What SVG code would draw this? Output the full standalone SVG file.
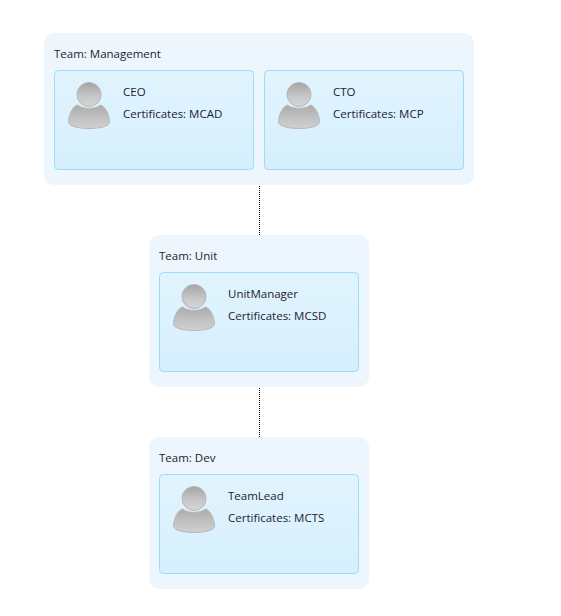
<svg xmlns="http://www.w3.org/2000/svg" width="561" height="616" viewBox="0 0 561 616">
<style>
.team{fill:#eef6fd}
.card{fill:url(#cardFill);stroke:#9bdcfb;stroke-width:1}
text{font-family:"Open Sans","Noto Sans","Liberation Sans",sans-serif;font-size:11.5px;fill:#22222e}
.link{stroke:#000;stroke-width:1;stroke-dasharray:1 1;fill:none}
</style>
<defs>
<linearGradient id="cardFill" x1="0" y1="0" x2="0" y2="1"><stop offset="0" stop-color="#e1f4fe"/><stop offset="1" stop-color="#d6effd"/></linearGradient>
<linearGradient id="headFill" x1="0" y1="0" x2="0" y2="1"><stop offset="0" stop-color="#a4a4a4"/><stop offset="0.55" stop-color="#c6c6c6"/><stop offset="1" stop-color="#d6d6d6"/></linearGradient>
<linearGradient id="bodyFill" x1="0" y1="0" x2="0" y2="1"><stop offset="0" stop-color="#aaaaaa"/><stop offset="0.5" stop-color="#c0c0c0"/><stop offset="1" stop-color="#d0d0d0"/></linearGradient>
<g id="avatar">
<circle cx="0" cy="0" r="12" fill="url(#headFill)" stroke="#b5b5b5" stroke-width="1"/>
<path d="M-11.5 10.5C-6 15 6 15 11.5 10.5C16 12 20 19 20.5 27C21 32 10 34 0 34C-10 34 -21 32 -20.5 27C-20 19 -16 12 -11.5 10.5Z" fill="url(#bodyFill)" stroke="#b8b8b8" stroke-width="1"/>
</g>
</defs>
<rect width="561" height="616" fill="#fff"/>
<g id="connectors">
<line class="link" x1="259.5" y1="186" x2="259.5" y2="235"/>
<line class="link" x1="259.5" y1="388" x2="259.5" y2="437"/>
</g>
<g id="team-management">
<rect class="team" x="44" y="33" width="430" height="152" rx="10"/>
<text x="54" y="58">Team: Management</text>
</g>
<g id="node-ceo">
<rect class="card" x="54.5" y="70.5" width="199" height="99" rx="4"/>
<use href="#avatar" x="89" y="94.5"/>
<text x="123" y="96">CEO</text>
<text x="123" y="118">Certificates: MCAD</text>
</g>
<g id="node-cto">
<rect class="card" x="264.5" y="70.5" width="199" height="99" rx="4"/>
<use href="#avatar" x="299" y="94.5"/>
<text x="333" y="96">CTO</text>
<text x="333" y="118">Certificates: MCP</text>
</g>
<g id="team-unit">
<rect class="team" x="149" y="235" width="220" height="152" rx="10"/>
<text x="159" y="260">Team: Unit</text>
</g>
<g id="node-unitmanager">
<rect class="card" x="159.5" y="272.5" width="199" height="99" rx="4"/>
<use href="#avatar" x="194" y="296.5"/>
<text x="228" y="298">UnitManager</text>
<text x="228" y="320">Certificates: MCSD</text>
</g>
<g id="team-dev">
<rect class="team" x="149" y="437" width="220" height="152" rx="10"/>
<text x="159" y="462">Team: Dev</text>
</g>
<g id="node-teamlead">
<rect class="card" x="159.5" y="474.5" width="199" height="99" rx="4"/>
<use href="#avatar" x="194" y="498.5"/>
<text x="228" y="500">TeamLead</text>
<text x="228" y="522">Certificates: MCTS</text>
</g>
</svg>
